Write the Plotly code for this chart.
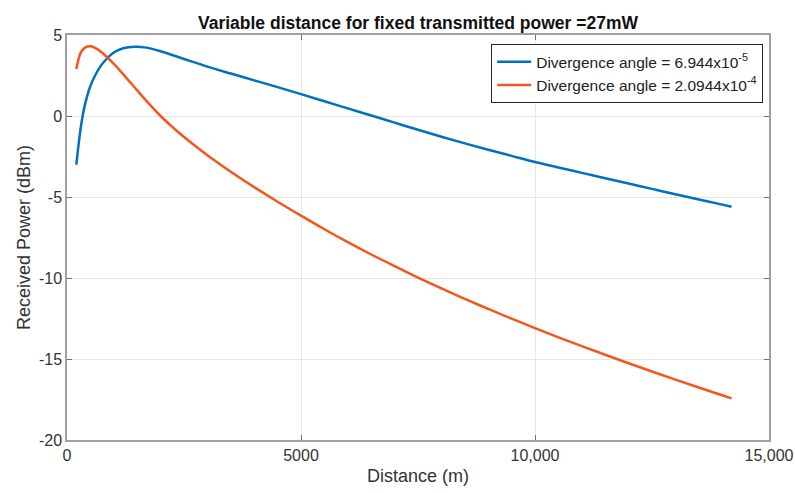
import plotly.graph_objects as go

# Distance (m) and received power (dBm)
dist_blue = [200, 250, 300, 350, 400, 500, 600, 700, 800, 1000, 1200, 1450, 1700, 2000, 2500,
             3000, 3500, 4000, 4500, 5000, 5500, 6000, 6500, 7000, 7500, 8000, 8500, 9000,
             9500, 10000, 10500, 11000, 11500, 12000, 12500, 13000, 13500, 14000, 14200]
power_blue = [-3.0, -1.7, -0.6, 0.25, 0.9, 1.85, 2.5, 3.0, 3.38, 3.92, 4.18, 4.28, 4.22, 4.0, 3.52,
              3.05, 2.62, 2.2, 1.78, 1.35, 0.91, 0.47, 0.03, -0.41, -0.85, -1.28, -1.69, -2.08,
              -2.46, -2.84, -3.18, -3.51, -3.84, -4.17, -4.5, -4.83, -5.15, -5.47, -5.6]

dist_orange = [200, 250, 300, 400, 500, 600, 700, 800, 1000, 1250, 1500, 1750, 2000, 2250, 2500,
               3000, 3500, 4000, 4500, 5000, 5500, 6000, 6500, 7000, 7500, 8000, 8500, 9000,
               9500, 10000, 10500, 11000, 11500, 12000, 12500, 13000, 13500, 14000, 14200]
power_orange = [2.9, 3.55, 3.95, 4.25, 4.3, 4.2, 4.02, 3.78, 3.22, 2.42, 1.58, 0.76, 0.0, -0.67, -1.3,
                -2.42, -3.44, -4.39, -5.29, -6.15, -6.99, -7.79, -8.55, -9.27, -9.97, -10.64, -11.29, -11.91,
                -12.51, -13.09, -13.66, -14.21, -14.74, -15.26, -15.77, -16.27, -16.76, -17.24, -17.43]

names = ["Divergence angle = 6.944x10<sup>-5</sup>",
         "Divergence angle = 2.0944x10<sup>-4</sup>"]

x_tickvals = [0, 5000, 10000, 15000]
x_ticktext = ["0", "5000", "10,000", "15,000"]
y_tickvals = [-20, -15, -10, -5, 0, 5]
y_ticktext = ["-20", "-15", "-10", "-5", "0", "5"]

FONT = "Liberation Sans, Arial"

fig = go.Figure()
fig.add_trace(go.Scatter(x=dist_blue, y=power_blue, mode="lines", name=names[0],
                         line=dict(color="#0072BD", width=2.5, shape="spline", smoothing=1.0)))
fig.add_trace(go.Scatter(x=dist_orange, y=power_orange, mode="lines", name=names[1],
                         line=dict(color="#F5561C", width=2.5, shape="spline", smoothing=1.0)))

axis_common = dict(showline=True, linecolor="#A0A0A0", linewidth=1.5, mirror="ticks",
                   ticks="inside", ticklen=5, tickcolor="#707070", automargin=False,
                   showgrid=True, gridcolor="#E6E6E6", gridwidth=1, zeroline=False,
                   tickfont=dict(family=FONT, size=16, color="#333333"))

fig.update_layout(
    width=795, height=493,
    paper_bgcolor="white", plot_bgcolor="white",
    margin=dict(l=67, r=26, t=35, b=53),
    title=dict(text="<b>Variable distance for fixed transmitted power =27mW</b>",
               x=418 / 795, xanchor="center", y=1 - 23 / 493, yanchor="middle",
               font=dict(family=FONT, size=17.5, color="#111111")),
    xaxis=dict(range=[0, 15000], tickvals=x_tickvals, ticktext=x_ticktext,
               title=dict(text="Distance (m)", standoff=6,
                          font=dict(family=FONT, size=18, color="#333333")),
               **axis_common),
    yaxis=dict(range=[-20, 5], tickvals=y_tickvals, ticktext=y_ticktext,
               title=dict(text="Received Power (dBm)", standoff=4,
                          font=dict(family=FONT, size=18, color="#333333")),
               **axis_common),
    legend=dict(x=1 - 6 / 702, y=1 - 9 / 405, xanchor="right", yanchor="top",
                bgcolor="white", bordercolor="#262626", borderwidth=1.2,
                font=dict(family=FONT, size=15.5, color="#222222"),
                tracegroupgap=0, itemwidth=34),
    showlegend=True,
)

fig.write_html("out.html")
